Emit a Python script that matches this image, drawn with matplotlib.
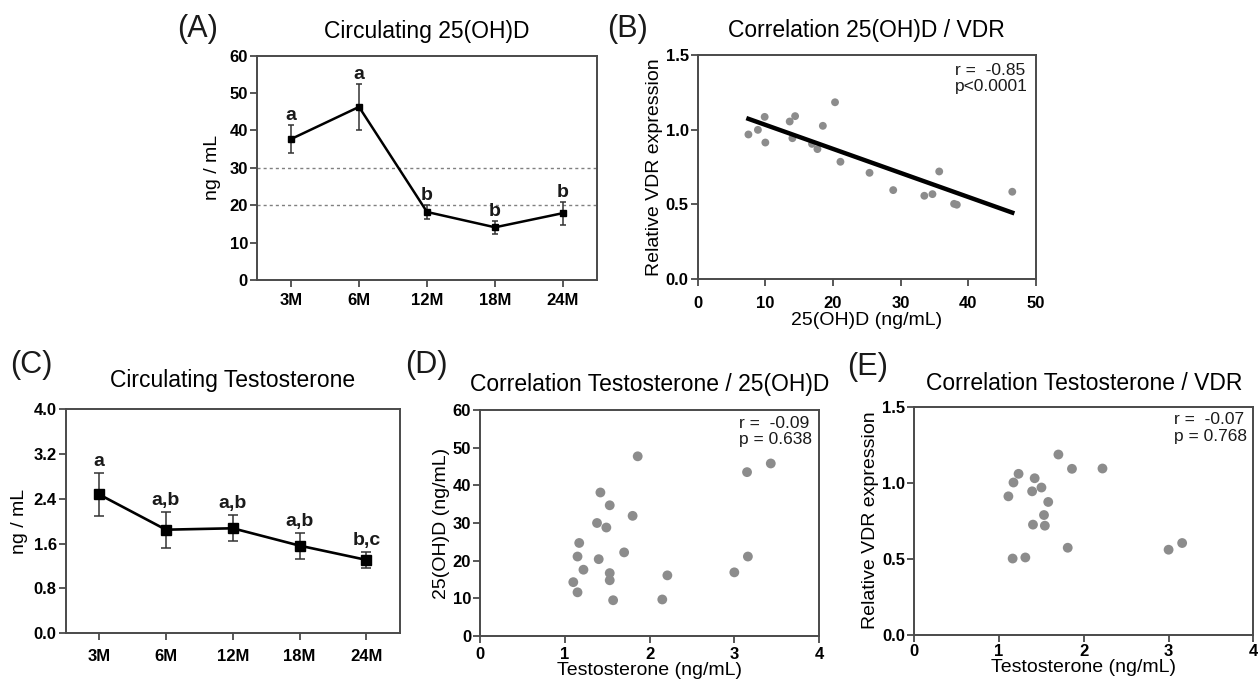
import numpy as np
import matplotlib
matplotlib.use("Agg")
import matplotlib.pyplot as plt

plt.rcParams["font.family"] = ["Liberation Sans", "DejaVu Sans"]

timepoints = ["3M", "6M", "12M", "18M", "24M"]

# circulating 25(OH)D, mean and SEM per timepoint
vitd_mean = [37.7, 46.3, 18.2, 14.1, 17.9]
vitd_sem = [3.8, 6.1, 2.0, 1.7, 3.1]
vitd_groups = ["a", "a", "b", "b", "b"]
vitd_cutoffs = [20, 30]

# circulating testosterone, mean and SEM per timepoint
testo_mean = [2.48, 1.85, 1.875, 1.565, 1.31]
testo_sem = [0.39, 0.32, 0.23, 0.23, 0.14]
testo_groups = ["a", "a,b", "a,b", "a,b", "b,c"]

# 25(OH)D vs VDR expression
b_vitd = [7.5, 8.9, 9.9, 10.0, 13.6, 14.4, 14.0, 16.9, 17.7, 18.5,
          20.3, 21.1, 25.4, 28.9, 33.5, 34.7, 35.7, 37.9, 38.3, 46.5]
b_vdr = [0.969, 1.00, 1.087, 0.915, 1.056, 1.092, 0.944, 0.906, 0.871, 1.027,
         1.185, 0.786, 0.712, 0.596, 0.558, 0.569, 0.721, 0.504, 0.498, 0.585]
b_stats = "r =  -0.85\np<0.0001"

# testosterone vs 25(OH)D
d_testo = [1.10, 1.15, 1.15, 1.17, 1.22, 1.38, 1.40, 1.42, 1.49, 1.53, 1.53,
           1.53, 1.57, 1.70, 1.80, 1.86, 2.15, 2.21, 3.00, 3.15, 3.16, 3.43]
d_vitd = [14.3, 11.6, 21.1, 24.7, 17.6, 30.0, 20.4, 38.1, 28.8, 34.7, 16.7,
          14.8, 9.5, 22.2, 31.9, 47.7, 9.7, 16.1, 16.9, 43.5, 21.1, 45.8]
d_stats = "r =  -0.09\np = 0.638"

# testosterone vs VDR expression
e_testo = [1.11, 1.16, 1.17, 1.23, 1.31, 1.39, 1.40, 1.42, 1.50, 1.53,
           1.54, 1.58, 1.70, 1.81, 1.86, 2.22, 3.00, 3.16]
e_vdr = [0.910, 0.501, 1.001, 1.058, 0.508, 0.943, 0.724, 1.029, 0.968, 0.787,
         0.717, 0.873, 1.185, 0.572, 1.091, 1.093, 0.559, 0.603]
e_stats = "r =  -0.07\np = 0.768"

SPINE = "#4a4a4a"
DOT = "#8c8c8c"
TXT = "#1a1a1a"

fig = plt.figure(figsize=(12.58, 6.85), dpi=100)


def style(ax, xticks, xlabels, yticks, ylabels, xpad=3):
    for s in ax.spines.values():
        s.set_color(SPINE)
        s.set_linewidth(1.4)
    ax.tick_params(direction="out", length=5, width=1.3, color=SPINE)
    ax.tick_params(axis="y", pad=1.5)
    ax.tick_params(axis="x", pad=xpad)
    ax.set_xticks(xticks)
    ax.set_xticklabels(xlabels, fontsize=12, fontweight="bold", color="black")
    ax.set_yticks(yticks)
    ax.set_yticklabels(ylabels, fontsize=12, fontweight="bold", color="black")


def time_course(ax, mean, sem, groups, cap, ms, lw, gap):
    x = np.arange(len(timepoints))
    ax.errorbar(x, mean, yerr=sem, fmt="s-", color="black", ecolor="#333333",
                elinewidth=1.1, capsize=cap, capthick=1.1, markersize=ms, lw=lw,
                zorder=3)
    for xi, m, e, g in zip(x, mean, sem, groups):
        ax.annotate(g, (xi, m + e), xytext=(0, gap), textcoords="offset points",
                    ha="center", va="baseline", fontsize=14, fontweight="bold",
                    color=TXT)
    ax.set_xlim(-0.5, len(timepoints) - 0.5)


# (A) circulating 25(OH)D
ax_a = fig.add_axes([0.2043, 0.5912, 0.2703, 0.3275])
for c in vitd_cutoffs:
    ax_a.axhline(c, color="#808080", lw=1.0, ls=(0, (2.2, 2.2)), zorder=1)
time_course(ax_a, vitd_mean, vitd_sem, vitd_groups, cap=2.5, ms=5, lw=1.8, gap=3.5)
ax_a.set_ylim(0, 60)
style(ax_a, range(5), timepoints, range(0, 61, 10), [str(v) for v in range(0, 61, 10)], xpad=4)
ax_a.set_ylabel("ng / mL", fontsize=14, labelpad=6)
ax_a.set_title("Circulating 25(OH)D", fontsize=16.5, pad=13)

# (B) 25(OH)D vs VDR with regression line
ax_b = fig.add_axes([0.5546, 0.5927, 0.2689, 0.3266])
ax_b.scatter(b_vitd, b_vdr, s=32, color=DOT, edgecolors="none", zorder=2)
slope, intercept = np.polyfit(b_vitd, b_vdr, 1)
xs = np.array([min(b_vitd), max(b_vitd)])
ax_b.plot(xs, slope * xs + intercept, color="black", lw=3.2, zorder=3)
ax_b.set_xlim(0, 50)
ax_b.set_ylim(0, 1.5)
style(ax_b, range(0, 51, 10), [str(v) for v in range(0, 51, 10)],
      [0, 0.5, 1.0, 1.5], ["0.0", "0.5", "1.0", "1.5"], xpad=7)
ax_b.set_xlabel("25(OH)D (ng/mL)", fontsize=14, labelpad=1)
ax_b.set_ylabel("Relative VDR expression", fontsize=14, labelpad=2)
ax_b.set_title("Correlation 25(OH)D / VDR", fontsize=16.5, pad=13)
ax_b.text(0.975, 0.965, b_stats, transform=ax_b.transAxes, ha="right", va="top",
          multialignment="left", fontsize=12.5, color=TXT, linespacing=1.1)

# (C) circulating testosterone
ax_c = fig.add_axes([0.0522, 0.0755, 0.2657, 0.327])
time_course(ax_c, testo_mean, testo_sem, testo_groups, cap=3.5, ms=7, lw=1.9, gap=5)
ax_c.set_ylim(0, 4.0)
cticks = [0, 0.8, 1.6, 2.4, 3.2, 4.0]
style(ax_c, range(5), timepoints, cticks, [f"{v:.1f}" for v in cticks], xpad=6)
ax_c.set_ylabel("ng / mL", fontsize=14, labelpad=4)
ax_c.set_title("Circulating Testosterone", fontsize=16.5, pad=16)

# (D) testosterone vs 25(OH)D
ax_d = fig.add_axes([0.3816, 0.0715, 0.2695, 0.330])
ax_d.scatter(d_testo, d_vitd, s=50, color=DOT, edgecolors="none", zorder=2)
ax_d.set_xlim(0, 4)
ax_d.set_ylim(0, 60)
style(ax_d, range(5), [str(v) for v in range(5)],
      range(0, 61, 10), [str(v) for v in range(0, 61, 10)], xpad=3)
ax_d.set_xlabel("Testosterone (ng/mL)", fontsize=14, labelpad=0)
ax_d.set_ylabel("25(OH)D (ng/mL)", fontsize=14, labelpad=2)
ax_d.set_title("Correlation Testosterone / 25(OH)D", fontsize=16.5, pad=14)
ax_d.text(0.98, 0.975, d_stats, transform=ax_d.transAxes, ha="right", va="top",
          multialignment="left", fontsize=12.5, color=TXT, linespacing=1.1)

# (E) testosterone vs VDR expression
ax_e = fig.add_axes([0.7268, 0.0734, 0.2695, 0.333])
ax_e.scatter(e_testo, e_vdr, s=50, color=DOT, edgecolors="none", zorder=2)
ax_e.set_xlim(0, 4)
ax_e.set_ylim(0, 1.5)
style(ax_e, range(5), [str(v) for v in range(5)],
      [0, 0.5, 1.0, 1.5], ["0.0", "0.5", "1.0", "1.5"], xpad=2)
ax_e.set_xlabel("Testosterone (ng/mL)", fontsize=14, labelpad=0)
ax_e.set_ylabel("Relative VDR expression", fontsize=14, labelpad=2)
ax_e.set_title("Correlation Testosterone / VDR", fontsize=16.5, pad=12)
ax_e.text(0.98, 0.975, e_stats, transform=ax_e.transAxes, ha="right", va="top",
          multialignment="left", fontsize=12.5, color=TXT, linespacing=1.1)

# panel letters
for label, px, py in [("(A)", 177, 29), ("(B)", 607, 29), ("(C)", 10, 365),
                      ("(D)", 405, 365), ("(E)", 847, 367)]:
    fig.text(px / 1258, 1 - py / 685, label, fontsize=22, ha="left", va="center",
             color=TXT)

fig.savefig("out.png", dpi=100)
